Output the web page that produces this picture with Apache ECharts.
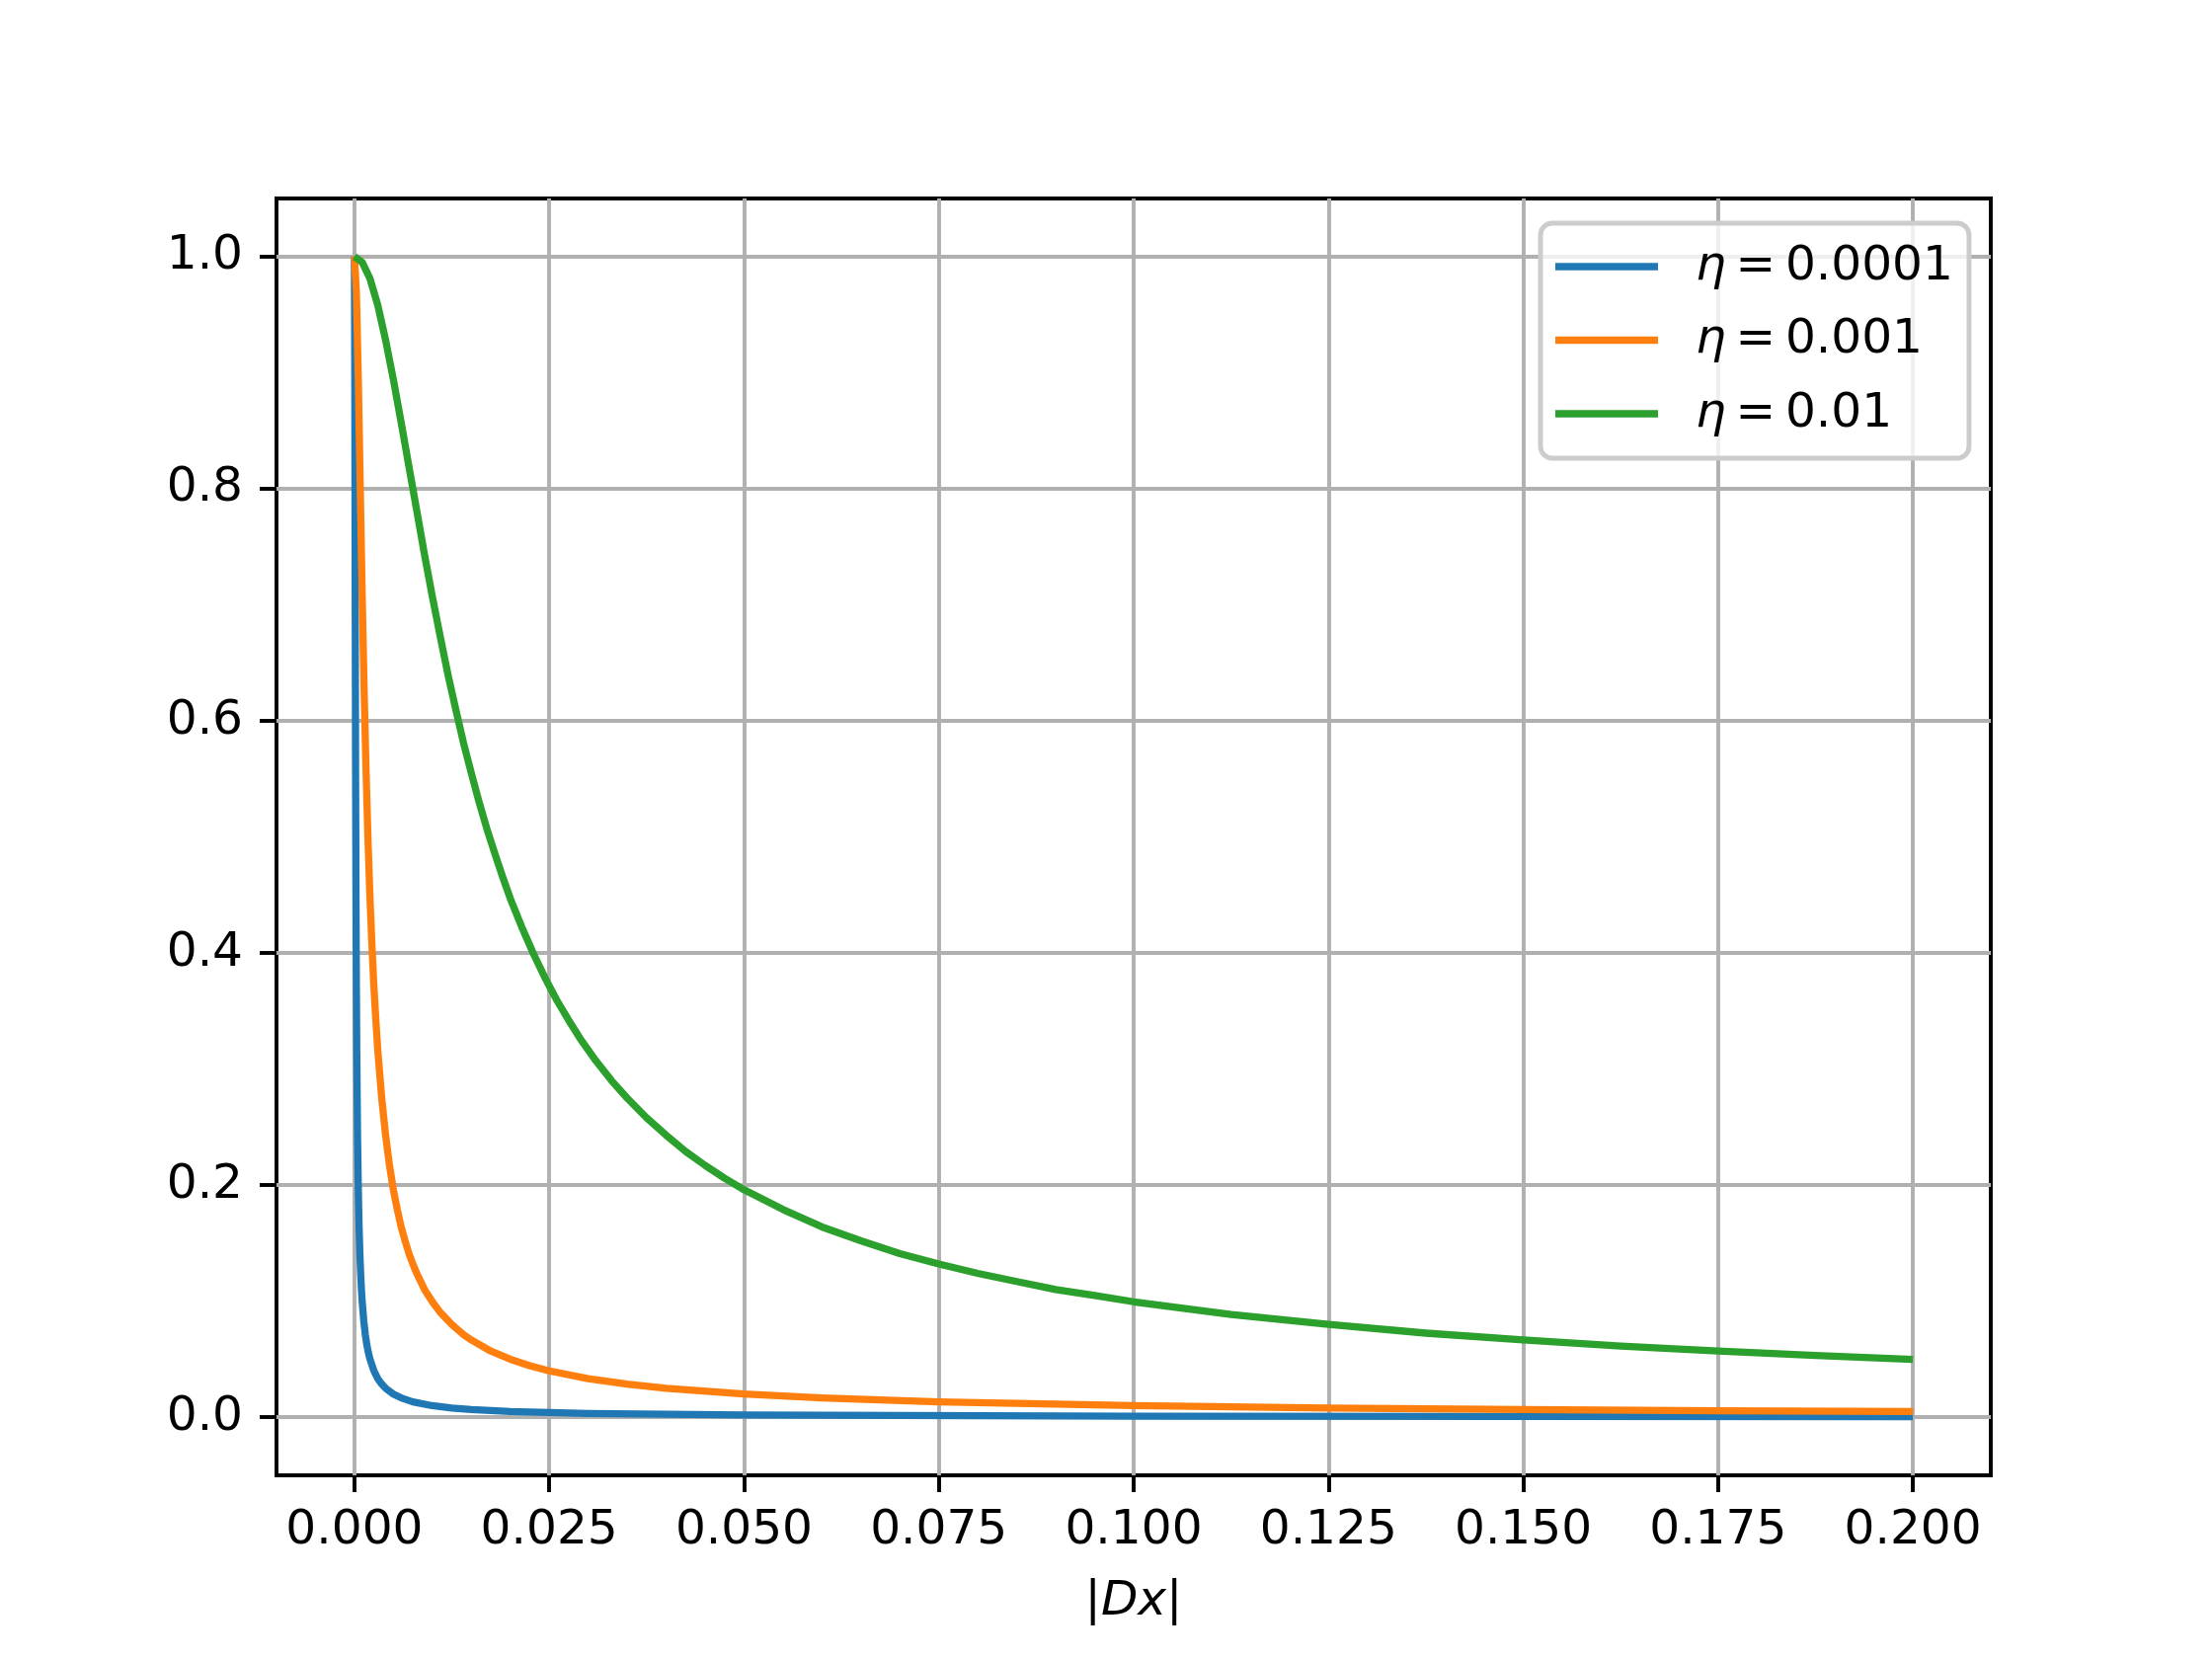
<!DOCTYPE html>
<html><head><meta charset="utf-8">
<script src="https://cdn.jsdelivr.net/npm/echarts@6/dist/echarts.min.js"></script>
<style>html,body{margin:0;padding:0;background:#fff}#c{width:2240px;height:1680px}</style>
</head><body><div id="c"></div>
<script>
const xTicks = [0, 0.025, 0.05, 0.075, 0.1, 0.125, 0.15, 0.175, 0.2];
const yTicks = [0, 0.2, 0.4, 0.6, 0.8, 1.0];
const seriesNames = ['η = 0.0001', 'η = 0.001', 'η = 0.01'];

const blueX = [0, 0.00005, 0.0001, 0.00015, 0.0002, 0.00025, 0.0003, 0.0004, 0.0005, 0.0006, 0.0007, 0.0008, 0.0009, 0.001, 0.0012, 0.0014, 0.0016, 0.0018, 0.002, 0.0025, 0.003, 0.0035, 0.004, 0.005, 0.006, 0.0075, 0.01, 0.0125, 0.015, 0.02, 0.03, 0.05, 0.1, 0.15, 0.2];
const blueY = [1, 0.894, 0.707, 0.555, 0.447, 0.371, 0.316, 0.243, 0.196, 0.164, 0.141, 0.124, 0.11, 0.0995, 0.083, 0.071, 0.062, 0.0554, 0.05, 0.04, 0.0333, 0.0286, 0.025, 0.02, 0.0167, 0.0133, 0.01, 0.008, 0.0067, 0.005, 0.0033, 0.002, 0.001, 0.0007, 0.0005];

const orangeX = [0, 0.00025, 0.0005, 0.00075, 0.001, 0.00125, 0.0015, 0.00175, 0.002, 0.00225, 0.0025, 0.00275, 0.003, 0.0035, 0.004, 0.0045, 0.005, 0.0055, 0.006, 0.0065, 0.007, 0.0075, 0.008, 0.009, 0.01, 0.011, 0.0125, 0.014, 0.015, 0.0175, 0.02, 0.0225, 0.025, 0.03, 0.035, 0.04, 0.05, 0.06, 0.075, 0.1, 0.125, 0.15, 0.175, 0.2];
const orangeY = [1, 0.97, 0.894, 0.8, 0.707, 0.625, 0.555, 0.496, 0.447, 0.406, 0.371, 0.342, 0.316, 0.275, 0.243, 0.217, 0.196, 0.179, 0.164, 0.152, 0.141, 0.132, 0.124, 0.11, 0.0995, 0.0905, 0.08, 0.0713, 0.0666, 0.057, 0.05, 0.0444, 0.04, 0.0333, 0.0286, 0.025, 0.02, 0.0167, 0.0133, 0.01, 0.008, 0.0067, 0.0057, 0.005];

const greenX = [0, 0.001, 0.002, 0.003, 0.004, 0.005, 0.006, 0.007, 0.008, 0.009, 0.01, 0.011, 0.012, 0.013, 0.014, 0.015, 0.016, 0.017, 0.018, 0.019, 0.02, 0.0215, 0.023, 0.0245, 0.026, 0.0275, 0.029, 0.031, 0.033, 0.035, 0.0375, 0.04, 0.0425, 0.045, 0.0475, 0.05, 0.055, 0.06, 0.065, 0.07, 0.075, 0.08, 0.085, 0.09, 0.095, 0.1, 0.1125, 0.125, 0.1375, 0.15, 0.1625, 0.175, 0.1875, 0.2];
const greenY = [1, 0.995, 0.981, 0.958, 0.928, 0.894, 0.857, 0.819, 0.781, 0.743, 0.707, 0.673, 0.64, 0.61, 0.581, 0.555, 0.53, 0.507, 0.486, 0.466, 0.447, 0.422, 0.399, 0.378, 0.359, 0.342, 0.326, 0.307, 0.29, 0.275, 0.258, 0.243, 0.229, 0.217, 0.206, 0.196, 0.179, 0.164, 0.152, 0.141, 0.132, 0.124, 0.117, 0.11, 0.105, 0.0995, 0.0885, 0.08, 0.0725, 0.0666, 0.0614, 0.057, 0.0532, 0.0499];

const colors = ['#1f77b4', '#ff7f0e', '#2ca02c'];
const zip = (xs, ys) => xs.map((x, i) => [x, ys[i]]);
const FONT = 'DejaVu Sans';
const FS = 48.6;
const TS = '\u2009';

const chart = echarts.init(document.getElementById('c'), null, {renderer: 'canvas'});
const mkSeries = (name, xs, ys, color) => ({
  name: name, type: 'line', data: zip(xs, ys), showSymbol: false, symbol: 'none',
  smooth: false,
  lineStyle: {color: color, width: 7.3, cap: 'butt', join: 'round'}, itemStyle: {color: color},
  animation: false, silent: true
});
chart.setOption({
  backgroundColor: '#ffffff',
  animation: false,
  grid: {left: 280, right: 224, top: 201, bottom: 186, show: true, borderColor: '#000', borderWidth: 3.9, backgroundColor: 'transparent', containLabel: false},
  xAxis: {
    type: 'value', min: -0.01, max: 0.21,
    name: '|{i|Dx}|', nameLocation: 'middle', nameGap: 104,
    nameTextStyle: {fontFamily: FONT, fontSize: FS, color: '#000', rich: {i: {fontFamily: FONT, fontSize: FS, fontStyle: 'italic', color: '#000'}}},
    axisLine: {show: false, onZero: false},
    axisTick: {show: true, inside: false, length: 17, customValues: xTicks, lineStyle: {color: '#000', width: 3.9}},
    axisLabel: {show: true, customValues: xTicks, margin: 32, fontFamily: FONT, fontSize: FS, color: '#000', formatter: v => v.toFixed(3)},
    splitLine: {show: true, lineStyle: {color: '#b0b0b0', width: 3.9}}
  },
  yAxis: {
    type: 'value', min: -0.05, max: 1.05,
    axisLine: {show: false, onZero: false},
    axisTick: {show: true, inside: false, length: 17, customValues: yTicks, lineStyle: {color: '#000', width: 3.9}},
    axisLabel: {show: true, customValues: yTicks, margin: 34, fontFamily: FONT, fontSize: FS, color: '#000', formatter: v => v.toFixed(1)},
    splitLine: {show: true, lineStyle: {color: '#b0b0b0', width: 3.9}}
  },
  legend: {
    show: true, orient: 'vertical', left: 1560, top: 226,
    padding: [19, 16, 20, 15], itemGap: 24.5, itemWidth: 104, itemHeight: 50,
    backgroundColor: 'rgba(255,255,255,0.8)', borderColor: '#cccccc', borderWidth: 4.9, borderRadius: 12,
    lineStyle: {width: 7.3},
    data: seriesNames.map((n, i) => ({name: n, icon: 'path://M0,0L104,0L104,7.3L0,7.3Z', itemStyle: {color: colors[i]}})),
    formatter: n => '{i|η}' + TS + '=' + TS + n.split('= ')[1],
    textStyle: {fontFamily: FONT, fontSize: FS, color: '#000', lineHeight: 50, padding: [0, 0, 0, 33],
      rich: {i: {fontFamily: FONT, fontSize: FS, fontStyle: 'italic', color: '#000', lineHeight: 50}}}
  },
  series: [
    mkSeries(seriesNames[0], blueX, blueY, colors[0]),
    mkSeries(seriesNames[1], orangeX, orangeY, colors[1]),
    mkSeries(seriesNames[2], greenX, greenY, colors[2])
  ]
});
</script></body></html>
